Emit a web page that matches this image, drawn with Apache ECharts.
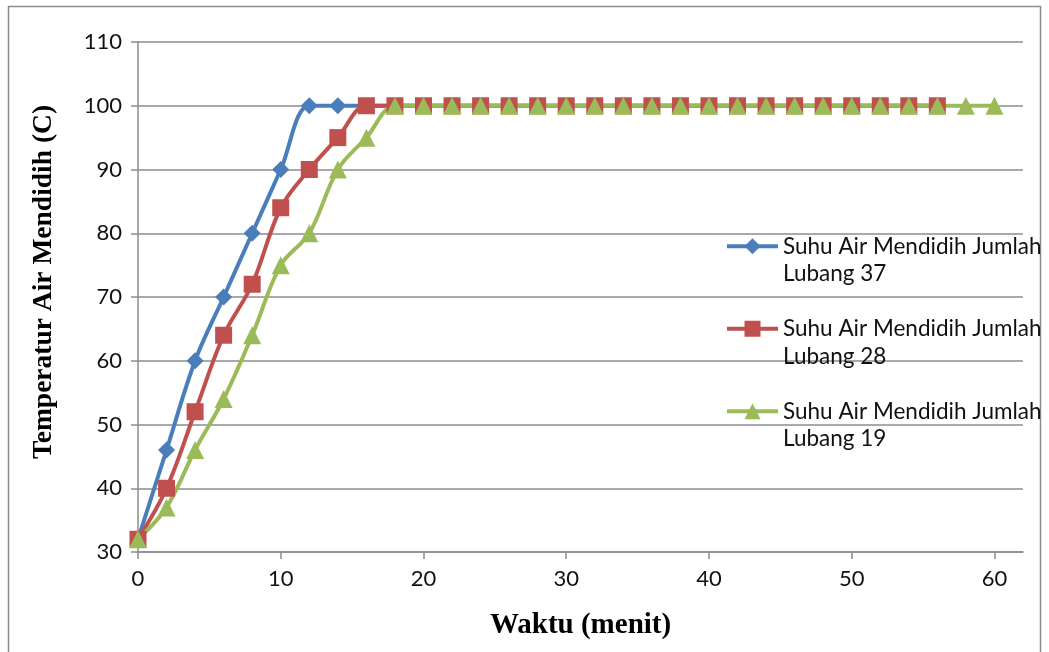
<!DOCTYPE html>
<html>
<head>
<meta charset="utf-8">
<script src="https://cdn.jsdelivr.net/npm/echarts@6/dist/echarts.min.js"></script>
<style>
  html, body { margin: 0; padding: 0; background: #fff; }
  #chart { width: 1049px; height: 652px; }
</style>
</head>
<body>
<div id="chart"></div>
<script>
// waktu (menit)
const times = [0, 2, 4, 6, 8, 10, 12, 14, 16, 18, 20, 22, 24, 26, 28, 30,
  32, 34, 36, 38, 40, 42, 44, 46, 48, 50, 52, 54, 56, 58, 60]
// suhu air per jumlah lubang
const lubang37 = [32, 46, 60, 70, 80, 90, 100, 100, 100, 100, 100, 100, 100, 100, 100,
  100, 100, 100, 100, 100, 100, 100, 100, 100, 100, 100, 100, 100, 100]
const lubang28 = [32, 40, 52, 64, 72, 84, 90, 95, 100, 100, 100, 100, 100, 100, 100,
  100, 100, 100, 100, 100, 100, 100, 100, 100, 100, 100, 100, 100, 100]
const lubang19 = [32, 37, 46, 54, 64, 75, 80, 90, 95, 100, 100, 100, 100, 100, 100,
  100, 100, 100, 100, 100, 100, 100, 100, 100, 100, 100, 100, 100, 100, 100, 100]
const names = ['Suhu Air Mendidih Jumlah\nLubang 37', 'Suhu Air Mendidih Jumlah\nLubang 28', 'Suhu Air Mendidih Jumlah\nLubang 19']
const xTicks = [0, 10, 20, 30, 40, 50, 60]

const pairs = arr => arr.map((v, i) => [times[i], v])

const chart = echarts.init(document.getElementById('chart'))
const lineSeries = (name, data, color, symbol, size) => ({
  name: name,
  type: 'line',
  data: pairs(data),
  smooth: 0.35,
  symbol: symbol,
  symbolSize: size,
  lineStyle: { color: color, width: 4 },
  itemStyle: { color: color },
  animation: false
})

chart.setOption({
  graphic: [{
    type: 'rect',
    shape: { x: 8.5, y: 6.5, width: 1032, height: 660 },
    style: { fill: null, stroke: '#8c8c8c', lineWidth: 1.5 },
    silent: true
  }],
  grid: { left: 138, right: 26, top: 42, bottom: 100 },
  xAxis: {
    type: 'value',
    min: 0,
    max: 62,
    interval: 10,
    name: 'Waktu (menit)',
    nameLocation: 'middle',
    nameGap: 59,
    nameTextStyle: { fontFamily: 'Liberation Serif', fontWeight: 'bold', fontSize: 29, color: '#000' },
    axisLine: { lineStyle: { color: '#8c8c8c', width: 1.5 } },
    axisTick: { show: true, length: 7, customValues: xTicks, lineStyle: { color: '#8c8c8c', width: 1.5 } },
    axisLabel: { customValues: xTicks, margin: 16, fontFamily: 'Lato', fontSize: 22, color: '#111' },
    splitLine: { show: false }
  },
  yAxis: {
    type: 'value',
    min: 30,
    max: 110,
    interval: 10,
    name: 'Temperatur Air Mendidih (C)',
    nameLocation: 'middle',
    nameGap: 80,
    nameTextStyle: { fontFamily: 'Liberation Serif', fontWeight: 'bold', fontSize: 27.5, color: '#000', padding: [0, 0, 0, 30] },
    axisLine: { show: true, lineStyle: { color: '#8c8c8c', width: 1.5 } },
    axisTick: { show: true, length: 7, lineStyle: { color: '#8c8c8c', width: 1.5 } },
    axisLabel: { margin: 16, fontFamily: 'Lato', fontSize: 22, color: '#111' },
    splitLine: { lineStyle: { color: '#8c8c8c', width: 1.5 } }
  },
  legend: {
    orient: 'vertical',
    left: 725,
    top: 205,
    padding: 0,
    itemGap: 0,
    itemWidth: 51,
    itemHeight: 20,
    lineStyle: { width: 4 },
    // blank line on top so the icon sits beside the first text line
    formatter: name => '\u00a0\n' + name,
    textStyle: { fontFamily: 'Lato', fontSize: 22.5, color: '#111', lineHeight: 27.5 },
    data: names
  },
  series: [
    lineSeries(names[0], lubang37, '#4a7ebb', 'diamond', 17),
    lineSeries(names[1], lubang28, '#c0504d', 'rect', 17),
    lineSeries(names[2], lubang19, '#9bbb59', 'triangle', 18)
  ]
})
</script>
</body>
</html>
